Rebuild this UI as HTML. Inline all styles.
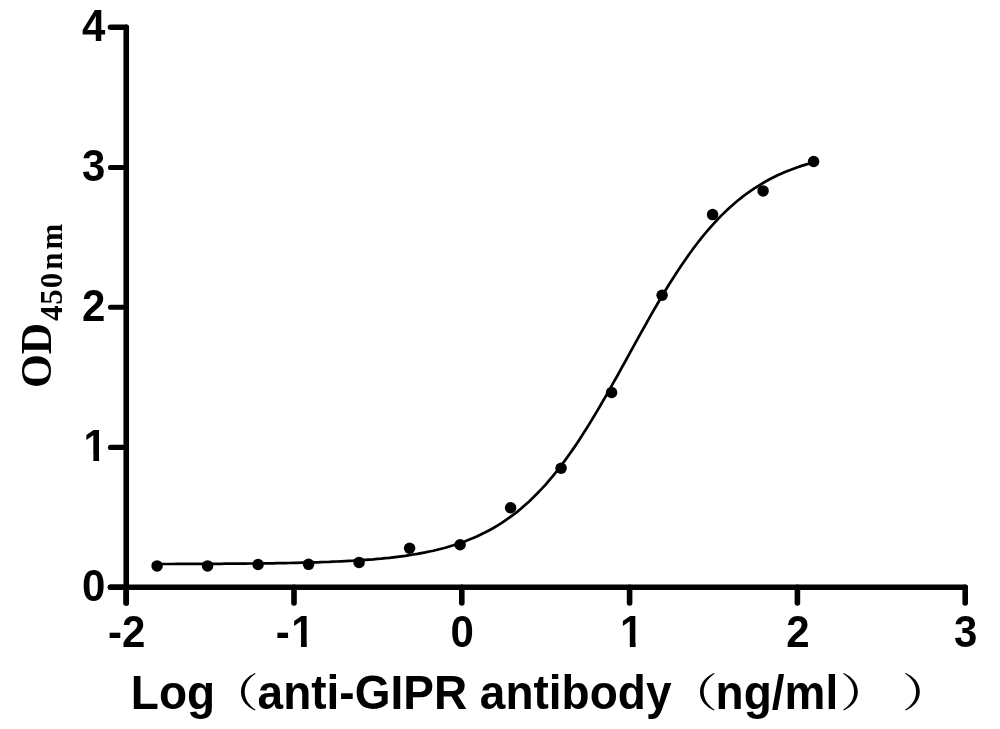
<!DOCTYPE html>
<html><head><meta charset="utf-8"><title>Log（anti-GIPR antibody（ng/ml））</title>
<style>
html,body{margin:0;padding:0;background:#fff;}
body{width:1000px;height:729px;overflow:hidden;}
svg{display:block;}
.tick{font-family:"Liberation Sans",sans-serif;font-weight:bold;font-size:42px;fill:#000;}
.xt{font-family:"Liberation Sans","Noto Serif CJK SC",sans-serif;font-weight:bold;font-size:46px;fill:#000;}
.cj{font-family:"Noto Serif CJK SC","Noto Sans CJK SC",serif;font-weight:500;font-size:40px;fill:#000;}
.yt{font-family:"Liberation Serif",serif;font-weight:bold;font-size:43.5px;fill:#000;}
</style></head><body>
<svg width="1000" height="729" viewBox="0 0 1000 729">
<defs><clipPath id="k1"><path d="M-40.00,-45 H15.57 V2 H9.80 V-5.6 H-40.00 Z"/></clipPath></defs>
<rect width="1000" height="729" fill="#fff"/>
<g stroke="#000" stroke-width="5.6" stroke-linecap="round" fill="none">
<line x1="126.25" y1="27.25" x2="126.25" y2="603.0"/>
<line x1="110.6" y1="587.25" x2="965.2" y2="587.25"/>
<line x1="126.2" y1="587.25" x2="126.2" y2="603.0" stroke-width="5.6"/>
<line x1="294.0" y1="587.25" x2="294.0" y2="603.0" stroke-width="5.6"/>
<line x1="461.8" y1="587.25" x2="461.8" y2="603.0" stroke-width="5.6"/>
<line x1="629.6" y1="587.25" x2="629.6" y2="603.0" stroke-width="5.6"/>
<line x1="797.4" y1="587.25" x2="797.4" y2="603.0" stroke-width="5.6"/>
<line x1="965.2" y1="587.25" x2="965.2" y2="603.0" stroke-width="5.6"/>
<line x1="126.2" y1="587.25" x2="110.5" y2="587.25" stroke-width="5.6"/>
<line x1="126.2" y1="447.4" x2="110.5" y2="447.4" stroke-width="5.1"/>
<line x1="126.2" y1="307.3" x2="110.5" y2="307.3" stroke-width="5.1"/>
<line x1="126.2" y1="167.55" x2="110.5" y2="167.55" stroke-width="5.1"/>
<line x1="126.2" y1="27.25" x2="110.5" y2="27.25" stroke-width="5.6"/>
</g>
<path d="M157.1,564.0 L161.1,564.0 L165.1,564.0 L169.1,564.0 L173.1,564.0 L177.1,563.9 L181.1,563.9 L185.1,563.9 L189.1,563.9 L193.1,563.9 L197.1,563.9 L201.1,563.9 L205.1,563.8 L209.1,563.8 L213.1,563.8 L217.1,563.8 L221.1,563.8 L225.2,563.7 L229.2,563.7 L233.2,563.7 L237.2,563.6 L241.2,563.6 L245.2,563.6 L249.2,563.5 L253.2,563.5 L257.2,563.5 L261.2,563.4 L265.2,563.4 L269.2,563.3 L273.2,563.3 L277.2,563.2 L281.2,563.1 L285.2,563.1 L289.2,563.0 L293.2,562.9 L297.2,562.8 L301.2,562.7 L305.2,562.6 L309.2,562.5 L313.2,562.4 L317.2,562.3 L321.2,562.1 L325.2,562.0 L329.2,561.9 L333.2,561.7 L337.2,561.5 L341.2,561.3 L345.2,561.1 L349.2,560.9 L353.2,560.7 L357.3,560.4 L361.3,560.2 L365.3,559.9 L369.3,559.6 L373.3,559.3 L377.3,558.9 L381.3,558.6 L385.3,558.2 L389.3,557.8 L393.3,557.3 L397.3,556.8 L401.3,556.3 L405.3,555.8 L409.3,555.2 L413.3,554.5 L417.3,553.9 L421.3,553.1 L425.3,552.4 L429.3,551.5 L433.3,550.7 L437.3,549.7 L441.3,548.7 L445.3,547.7 L449.3,546.5 L453.3,545.3 L457.3,544.0 L461.3,542.6 L465.3,541.2 L469.3,539.6 L473.3,537.9 L477.3,536.2 L481.3,534.3 L485.4,532.3 L489.4,530.2 L493.4,528.0 L497.4,525.6 L501.4,523.1 L505.4,520.4 L509.4,517.6 L513.4,514.7 L517.4,511.6 L521.4,508.3 L525.4,504.8 L529.4,501.2 L533.4,497.3 L537.4,493.3 L541.4,489.1 L545.4,484.8 L549.4,480.2 L553.4,475.4 L557.4,470.4 L561.4,465.3 L565.4,459.9 L569.4,454.3 L573.4,448.6 L577.4,442.7 L581.4,436.6 L585.4,430.3 L589.4,423.9 L593.4,417.3 L597.4,410.6 L601.4,403.8 L605.4,396.8 L609.4,389.8 L613.4,382.7 L617.5,375.5 L621.5,368.2 L625.5,361.0 L629.5,353.7 L633.5,346.4 L637.5,339.1 L641.5,331.9 L645.5,324.8 L649.5,317.7 L653.5,310.7 L657.5,303.8 L661.5,297.0 L665.5,290.3 L669.5,283.8 L673.5,277.5 L677.5,271.3 L681.5,265.2 L685.5,259.4 L689.5,253.7 L693.5,248.3 L697.5,243.0 L701.5,237.9 L705.5,233.0 L709.5,228.3 L713.5,223.8 L717.5,219.5 L721.5,215.4 L725.5,211.5 L729.5,207.7 L733.5,204.2 L737.5,200.8 L741.5,197.6 L745.5,194.5 L749.6,191.6 L753.6,188.9 L757.6,186.3 L761.6,183.8 L765.6,181.5 L769.6,179.3 L773.6,177.3 L777.6,175.3 L781.6,173.5 L785.6,171.8 L789.6,170.2 L793.6,168.7 L797.6,167.2 L801.6,165.9 L805.6,164.6 L809.6,163.5 L813.6,162.3" fill="none" stroke="#000" stroke-width="2.7" stroke-linejoin="round"/>
<g fill="#000">
<circle cx="157.1" cy="565.9" r="5.75"/>
<circle cx="207.6" cy="565.9" r="5.75"/>
<circle cx="258.1" cy="564.5" r="5.75"/>
<circle cx="308.6" cy="564.35" r="5.75"/>
<circle cx="359.1" cy="562.4" r="5.75"/>
<circle cx="409.6" cy="548.2" r="5.75"/>
<circle cx="460.1" cy="544.8" r="5.75"/>
<circle cx="510.6" cy="507.7" r="5.75"/>
<circle cx="561.1" cy="468.3" r="5.75"/>
<circle cx="611.6" cy="392.5" r="5.75"/>
<circle cx="662.1" cy="295.2" r="5.75"/>
<circle cx="712.6" cy="214.6" r="5.75"/>
<circle cx="763.1" cy="190.9" r="5.75"/>
<circle cx="813.6" cy="161.5" r="5.75"/>
</g>
<g class="tick">
<text transform="translate(108.03,647.2) scale(1,1.04)">-2</text>
<text transform="translate(275.83,647.2) scale(1,1.04)">-</text><text transform="translate(291.21,647.2) scale(1,1.04)" clip-path="url(#k1)">1</text>
<text transform="translate(450.62,647.2) scale(1,1.04)">0</text>
<text transform="translate(620.02,647.2) scale(1,1.04)" clip-path="url(#k1)">1</text>
<text transform="translate(786.22,647.2) scale(1,1.04)">2</text>
<text transform="translate(954.02,647.2) scale(1,1.04)">3</text>
<text transform="translate(81.94,600.9) scale(1,1.04)">0</text>
<text transform="translate(83.54,461.0) scale(1,1.04)" clip-path="url(#k1)">1</text>
<text transform="translate(81.94,320.9) scale(1,1.04)">2</text>
<text transform="translate(81.94,181.2) scale(1,1.04)">3</text>
<text transform="translate(81.94,40.9) scale(1,1.04)">4</text>
</g>
<g>
<text class="xt" transform="translate(130.8,708.6) scale(1,1.025)">Log</text>
<text class="cj" transform="translate(208,706.9) scale(1.27,1)">（</text>
<text class="xt" transform="translate(257.6,708.6) scale(1,1.025)">anti-GIPR antibody</text>
<text class="cj" transform="translate(667,706.9) scale(1.27,1)">（</text>
<text class="xt" transform="translate(715.6,708.6) scale(1,1.025)">ng/ml</text>
<text class="cj" transform="translate(840,706.9) scale(1.27,1)">）</text>
<text class="cj" transform="translate(901.9,706.9) scale(1.27,1)">）</text>
</g>
<text class="yt" transform="translate(51.3,388) rotate(-90)">OD<tspan font-size="31" dx="1.7" dy="10.5" letter-spacing="0.9">450</tspan><tspan font-size="31" dx="2.2" letter-spacing="2.8">nm</tspan></text>
</svg>
</body></html>
